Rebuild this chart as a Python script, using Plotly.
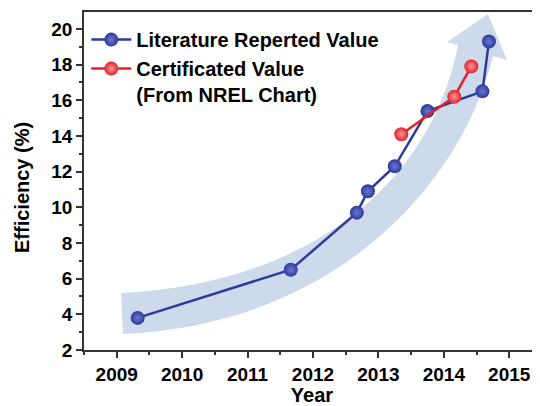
import plotly.graph_objects as go

# ---- data ----
lit_year = [2009.32, 2011.66, 2012.67, 2012.84, 2013.25, 2013.75, 2014.59, 2014.69]
lit_eff = [3.8, 6.5, 9.7, 10.9, 12.3, 15.4, 16.5, 19.3]
cert_year = [2013.35, 2014.16, 2014.42]
cert_eff = [14.1, 16.2, 17.9]
x_ticks = [2009, 2010, 2011, 2012, 2013, 2014, 2015]
y_ticks = [2, 4, 6, 8, 10, 12, 14, 16, 18, 20]

# page body has an 8px margin: size the figure so it fills the 540x406 window
OFF = 8
W, H = 540 - OFF, 406 - OFF
# plot area in window pixels: left 84, right 540, top 12, bottom 350
L_S, R_S, T_S, B_S = 84, 540, 12, 350
ML, MR, MT, MB = L_S - OFF, (540 - R_S), T_S - OFF, (406 - B_S)
XR = [2008.5, 2015.47]
YR = [2.0, 20.95]

def px(xs):
    return XR[0] + (xs - L_S) / (R_S - L_S) * (XR[1] - XR[0])

def py(ys):
    return YR[1] - (ys - T_S) / (B_S - T_S) * (YR[1] - YR[0])

def P(a, b):
    return f"{px(a):.4f},{py(b):.4f}"

# decorative curved arrow (outline defined in window pixel space, mapped to axes)
arrow_path = (
    f"M {P(121,293)} "
    f"C {P(300,285)} {P(430,190)} {P(458,45)} "
    f"L {P(447,42)} L {P(488,14)} L {P(507,60)} L {P(493,56)} "
    f"C {P(460,190)} {P(330,325)} {P(123,334)} Z"
)

FONT = "Liberation Sans"
BLUE = "#2e3a9c"
RED = "#e3202c"

fig = go.Figure()
fig.add_trace(go.Scatter(
    x=lit_year, y=lit_eff, mode="lines+markers",
    name="Literature Reperted Value",
    line=dict(color=BLUE, width=2.5),
    marker=dict(size=14, color=BLUE,
                gradient=dict(type="radial", color="#6b78cf"),
                line=dict(width=0)),
    legendrank=1,
))
fig.add_trace(go.Scatter(
    x=cert_year, y=cert_eff, mode="lines+markers",
    name="Certificated Value<br>(From NREL Chart)",
    line=dict(color=RED, width=2.5),
    marker=dict(size=14, color=RED,
                gradient=dict(type="radial", color="#f59a9a"),
                line=dict(width=0)),
    legendrank=2,
))

fig.add_shape(type="path", path=arrow_path, xref="x", yref="y",
              fillcolor="#ccdaec", line=dict(width=0), layer="below")

axis_common = dict(
    showgrid=False, zeroline=False, showline=True, linecolor="#333333",
    linewidth=1.5, ticks="outside", ticklen=6, tickwidth=1.5, tickcolor="#333333",
    tickfont=dict(family=FONT, size=19, color="black", weight="bold"),
    automargin=False,
)

fig.update_xaxes(
    range=XR, tickvals=x_ticks, ticktext=[str(v) for v in x_ticks],
    mirror=True,
    minor=dict(ticks="outside", ticklen=3, dtick=0.5, tick0=2008.5,
               tickcolor="#333333", tickwidth=1.5),
    title=dict(text="Year", font=dict(family=FONT, size=20, color="black", weight="bold"),
               standoff=2),
    **axis_common,
)
fig.update_yaxes(
    range=YR, tickvals=y_ticks, ticktext=[str(v) for v in y_ticks],
    minor=dict(ticks="outside", ticklen=3, dtick=1, tick0=1,
               tickcolor="#333333", tickwidth=1.5),
    **axis_common,
)

# y-axis title placed as an annotation to match the reference position
fig.add_annotation(
    text="Efficiency (%)", textangle=-90, showarrow=False,
    xref="paper", yref="paper",
    x=(22 - L_S) / (R_S - L_S), y=(B_S - 188) / (B_S - T_S),
    xanchor="center", yanchor="middle",
    font=dict(family=FONT, size=20, color="black", weight="bold"),
)

fig.update_layout(
    width=W, height=H,
    margin=dict(l=ML, r=MR, t=MT, b=MB),
    paper_bgcolor="white", plot_bgcolor="white",
    showlegend=True,
    legend=dict(x=0.005, y=0.976, xanchor="left", yanchor="top",
                bgcolor="rgba(0,0,0,0)", valign="top",
                font=dict(family=FONT, size=20, color="black", weight="bold"),
                tracegroupgap=0, itemwidth=40),
)

fig.write_html("out.html")
